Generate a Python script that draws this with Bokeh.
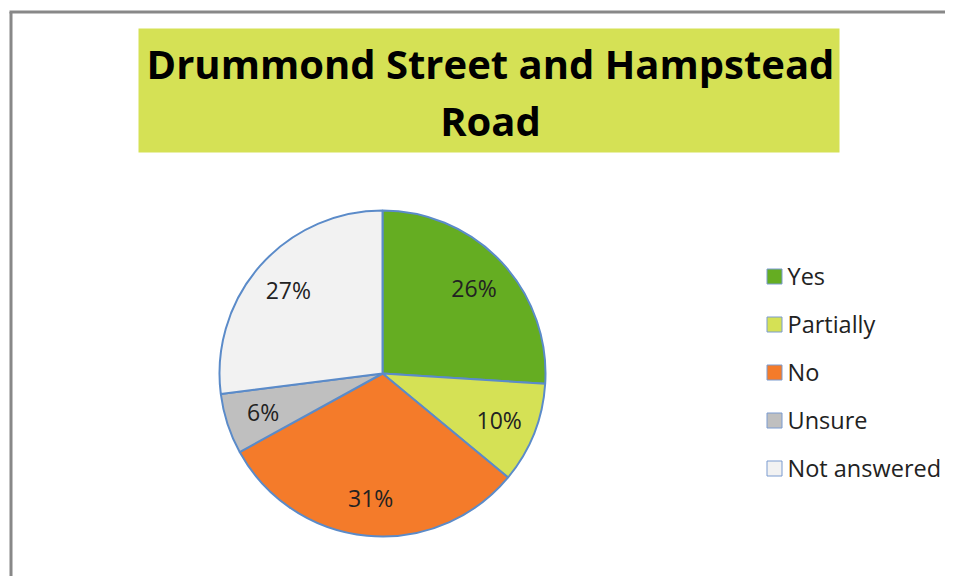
import math
from bokeh.plotting import figure
from bokeh.models import Range1d, ColumnDataSource
from bokeh.core.properties import value
from bokeh.embed import file_html
from bokeh.resources import INLINE

# ---- data ----
categories = ["Yes", "Partially", "No", "Unsure", "Not answered"]
percents = [26, 10, 31, 6, 27]
colors = ["#65ad22", "#d5e155", "#f47b2a", "#bfbfbf", "#f2f2f2"]
title_lines = ["Drummond Street and Hampstead", "Road"]

# ---- layout (screenshot pixel coordinates; y stored negative so up is up) ----
W, H = 945, 576
p = figure(width=W, height=H, output_backend="svg", toolbar_location=None,
           x_range=Range1d(0, W), y_range=Range1d(-H, 0),
           min_border=0, x_axis_location=None, y_axis_location=None,
           outline_line_color=None)
p.grid.visible = False
p.background_fill_color = "white"
p.border_fill_color = "white"

def Y(v):
    return -v

# chart border (left and top visible)
p.segment(x0=[10.5, 9], y0=[Y(11.5), Y(11.5)], x1=[10.5, W], y1=[Y(H), Y(11.5)],
          line_color="#888888", line_width=3)

# title box + text
p.quad(left=[138], right=[839], top=[Y(28)], bottom=[Y(152)],
       fill_color="#d5e155", line_color=None)
p.text(x=[490, 490], y=[Y(63), Y(120)], text=title_lines,
       text_font=value("Open Sans"), text_font_style="bold", text_font_size="40px",
       text_align="center", text_baseline="alphabetic", text_color="#000000")

# pie
cx, cy, R = 382, Y(373), 163
starts, ends, lx, ly, labels = [], [], [], [], []
cum = 0.0
total = float(sum(percents))
for v in percents:
    a0 = math.pi / 2 - 2 * math.pi * cum / total
    cum += v
    a1 = math.pi / 2 - 2 * math.pi * cum / total
    starts.append(a0)
    ends.append(a1)
    mid = (a0 + a1) / 2
    lx.append(cx + 0.77 * R * math.cos(mid))
    ly.append(cy + 0.77 * R * math.sin(mid))
    labels.append(f"{v}%")

src = ColumnDataSource(dict(start=starts, end=ends, color=colors, lx=lx, ly=ly, label=labels))
p.wedge(x=cx, y=cy, radius=R, start_angle="start", end_angle="end", direction="clock",
        fill_color="color", line_color="#5b8bc9", line_width=2, source=src)
p.text(x="lx", y="ly", text="label", source=src,
       text_font=value("Open Sans"), text_font_size="23px",
       text_align="center", text_baseline="middle", text_color="#222222")

# legend
leg_y = [Y(276 + 48 * i) for i in range(len(categories))]
p.rect(x=[774] * len(categories), y=leg_y, width=15, height=15,
       fill_color=colors, line_color="#7a9bd0", line_width=1)
p.text(x=[787] * len(categories), y=[v + 1 for v in leg_y], text=categories,
       text_font=value("Open Sans"), text_font_size="23.5px",
       text_align="left", text_baseline="middle", text_color="#222222")

open("out.html", "w").write(file_html(p, INLINE))
